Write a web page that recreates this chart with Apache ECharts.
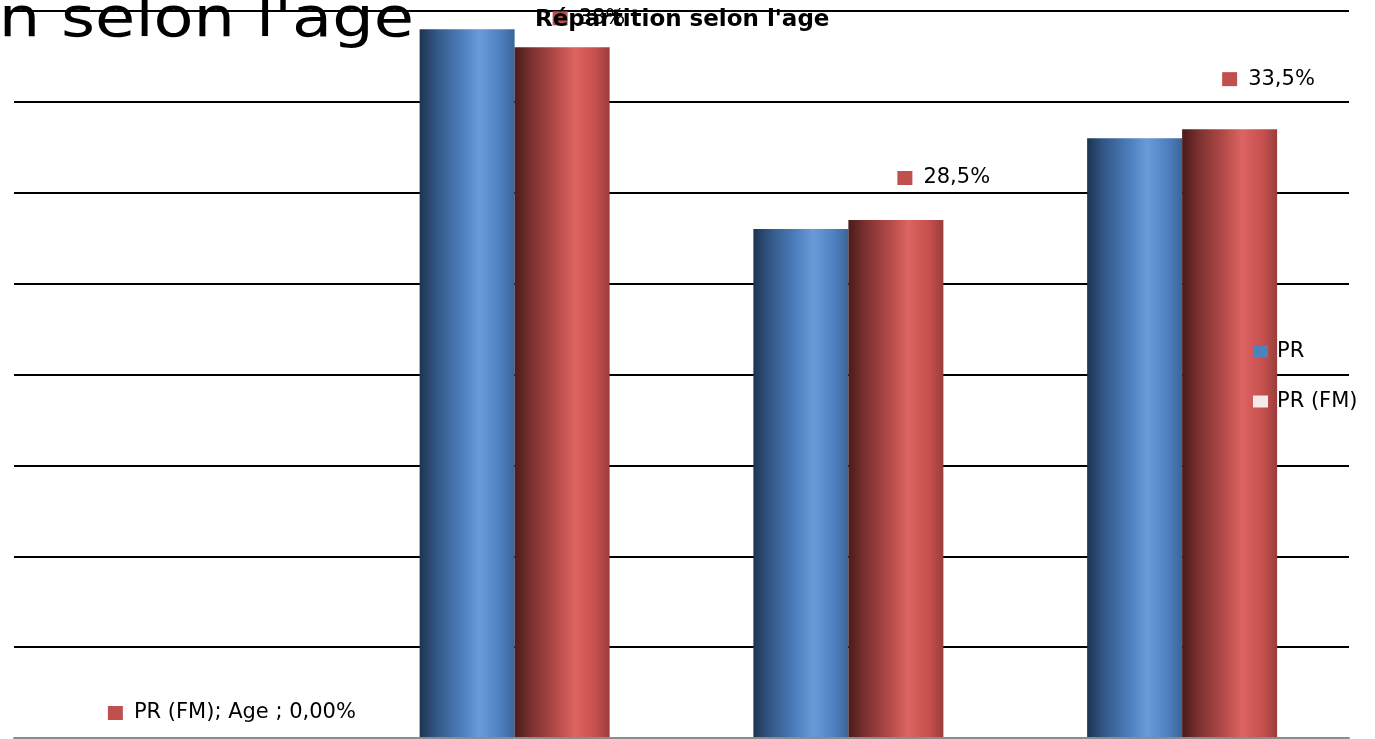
<!DOCTYPE html>
<html>
<head>
<meta charset="utf-8">
<title>Répartition selon l'age</title>
<script src="https://cdn.jsdelivr.net/npm/echarts@6/dist/echarts.min.js"></script>
<style>
  html, body { margin: 0; padding: 0; background: #ffffff; }
  #chart { width: 1375px; height: 739px; }
</style>
</head>
<body>
<div id="chart"></div>
<script>
// Age groups (only the first one is ever named in a label)
const categories = ['Age', 'Classe 2', 'Classe 3', 'Classe 4'];
const seriesNames = ['PR', 'PR (FM)'];
// Percentages per age group
const valuesPR = [0, 39, 28, 33];
const valuesPRFM = [0, 38, 28.5, 33.5];
const yTicks = [0, 5, 10, 15, 20, 25, 30, 35, 40];

const FONT = '"DejaVu Sans", "Open Sans", sans-serif';

// Label placement relative to each red bar's top-left corner
const labelShift = [[-73, -25], [38, -29], [49, -42], [40, -50]];

function frPercent(v) {
  return (Number.isInteger(v) ? String(v) : v.toFixed(1).replace('.', ',')) + '%';
}

const blueGrad = new echarts.graphic.LinearGradient(0, 0, 1, 0, [
  { offset: 0, color: '#1d3452' },
  { offset: 0.18, color: '#335887' },
  { offset: 0.45, color: '#4d7fbe' },
  { offset: 0.63, color: '#6a9bd8' },
  { offset: 0.85, color: '#4e80c1' },
  { offset: 1, color: '#3c6598' }
]);
const redGrad = new echarts.graphic.LinearGradient(0, 0, 1, 0, [
  { offset: 0, color: '#4a1b1b' },
  { offset: 0.18, color: '#7c3130' },
  { offset: 0.45, color: '#b54c4a' },
  { offset: 0.63, color: '#dc6461' },
  { offset: 0.85, color: '#c6504e' },
  { offset: 1, color: '#9a3d3b' }
]);

const redData = valuesPRFM.map((v, i) => ({
  value: v,
  label: { position: labelShift[i] }
}));

const chart = echarts.init(document.getElementById('chart'), null, { renderer: 'canvas' });

chart.setOption({
  animation: false,
  backgroundColor: '#ffffff',
  title: {
    text: "Répartition selon l'age",
    left: 535,
    top: 9,
    padding: 0,
    textStyle: { fontFamily: FONT, fontSize: 23, fontWeight: 'bold', color: '#000' }
  },
  graphic: [{
    type: 'text',
    z: -10,
    x: 414,
    y: 22,
    scaleX: 1.19,
    style: {
      text: "Répartition selon l'age",
      font: '55px ' + FONT,
      fill: '#000',
      align: 'right',
      verticalAlign: 'middle'
    }
  }],
  legend: {
    orient: 'vertical',
    left: 1253,
    top: 341,
    padding: 0,
    itemWidth: 15,
    itemHeight: 12,
    itemGap: 29,
    icon: 'rect',
    textStyle: { fontFamily: FONT, fontSize: 21, color: '#000', lineHeight: 20, padding: [0, 0, 0, 4] },
    data: [
      { name: seriesNames[0], itemStyle: { color: '#4f81bd' } },
      { name: seriesNames[1], itemStyle: { color: '#f6e9e9' } }
    ]
  },
  grid: { left: 14, right: 26, top: 11, bottom: 1 },
  xAxis: {
    type: 'category',
    data: categories,
    z: 3,
    axisLine: { show: true, lineStyle: { color: '#8c8c8c', width: 2 } },
    axisTick: { show: false },
    axisLabel: { show: false },
    splitLine: { show: false }
  },
  yAxis: {
    type: 'value',
    min: yTicks[0],
    max: yTicks[yTicks.length - 1],
    interval: yTicks[1] - yTicks[0],
    axisLine: { show: false },
    axisTick: { show: false },
    axisLabel: { show: false },
    splitLine: { show: true, lineStyle: { color: '#000', width: 2 } }
  },
  series: [
    {
      name: seriesNames[0],
      type: 'bar',
      data: valuesPR,
      barWidth: 95,
      barGap: '0%',
      itemStyle: { color: blueGrad }
    },
    {
      name: seriesNames[1],
      type: 'bar',
      data: redData,
      barWidth: 95,
      barGap: '0%',
      itemStyle: { color: redGrad },
      label: {
        show: true,
        align: 'left',
        verticalAlign: 'middle',
        formatter: p => {
          const txt = p.value === 0
            ? p.seriesName + '; ' + p.name + ' ; 0,00%'
            : frPercent(p.value);
          return '{m|}{t|' + txt + '}';
        },
        rich: {
          m: { width: 15, height: 14, backgroundColor: '#c0504d' },
          t: { fontFamily: FONT, fontSize: 21, color: '#000', padding: [0, 0, 0, 11] }
        }
      }
    }
  ]
});
</script>
</body>
</html>
